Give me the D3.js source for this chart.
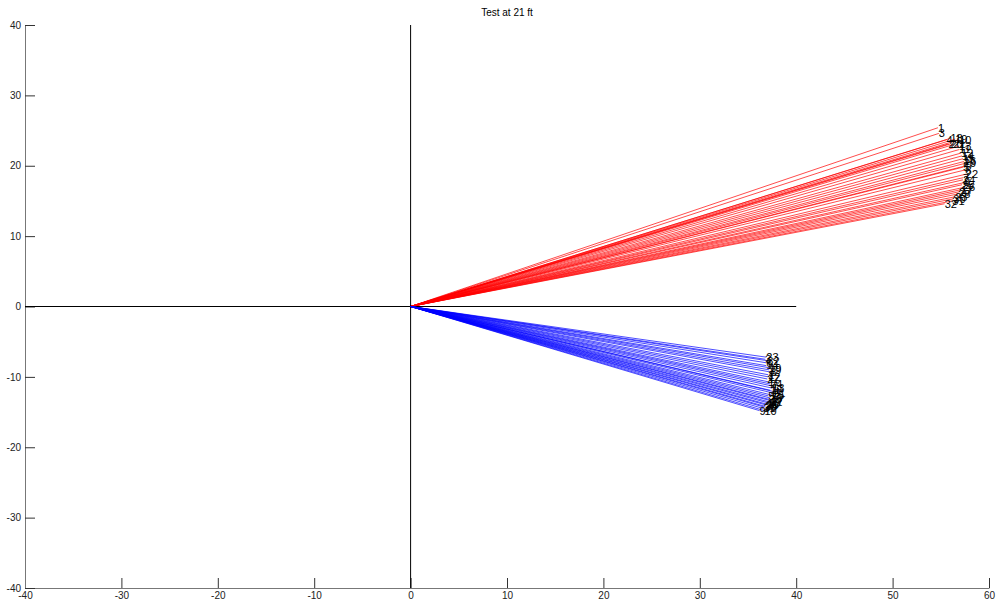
<!DOCTYPE html>
<html><head><meta charset="utf-8">
<script src="https://cdn.jsdelivr.net/npm/d3@7"></script>
<style>body{margin:0;background:#fff}svg{display:block;font-family:"Liberation Sans",Arial,sans-serif}</style>
</head><body><svg id="c" width="999" height="609"></svg>
<script>
const title = "Test at 21 ft";
const xTicks = [-40,-30,-20,-10,0,10,20,30,40,50,60];
const yTicks = [-40,-30,-20,-10,0,10,20,30,40];
// red series: end points [x, y] and labels
const redLabels = [1,3,4,18,19,10,2,20,21,13,11,12,14,15,16,29,9,5,6,22,7,24,8,25,26,17,27,28,23,30,31,32];
const redX = [54.7,54.8,55.6,56.0,56.5,56.9,55.8,56.0,56.3,56.9,56.9,57.1,57.2,57.3,57.4,57.4,57.6,57.3,57.5,57.6,57.3,57.3,57.4,57.2,57.3,57.1,56.9,56.8,56.5,56.3,56.2,55.4];
const redY = [25.4,24.6,23.7,23.9,23.8,23.7,23.1,23.1,23.0,22.8,22.3,21.8,21.4,21.0,20.6,20.3,20.0,19.8,19.4,18.8,18.3,18.0,17.6,17.3,16.9,16.6,16.3,16.0,15.6,15.3,15.0,14.6];
// blue series
const blueLabels = [23,3,32,6,14,19,29,8,2,12,27,1,24,7,13,18,4,21,15,5,16,26,17,22,28,11,20,25,30,31,9,10];
const blueX = [36.9,36.8,37.0,36.9,36.9,37.2,37.2,37.3,37.1,37.1,37.0,37.1,37.3,37.5,37.5,37.3,37.7,37.6,37.5,37.1,37.3,37.2,37.4,37.3,37.1,37.0,36.9,36.8,36.7,36.6,36.2,36.7];
const blueY = [-7.2,-7.5,-7.7,-8.0,-8.4,-8.7,-9.0,-9.3,-9.7,-10.0,-10.3,-10.7,-11.0,-11.3,-11.6,-11.9,-12.1,-12.3,-12.6,-12.7,-13.0,-13.2,-13.4,-13.6,-13.7,-13.9,-14.0,-14.2,-14.3,-14.5,-14.8,-14.8];

const svg = d3.select("#c");
const L=25,R=989,T=25,B=588;
const x = d3.scaleLinear().domain([-40,60]).range([L,R]);
const y = d3.scaleLinear().domain([-40,40]).range([B,T]);
const fmt = d => String(d);

// axes
const xa = svg.append("g").attr("transform",`translate(0,${B})`)
  .call(d3.axisBottom(x).tickValues(xTicks).tickFormat(fmt).tickSizeInner(-10).tickSizeOuter(0).tickPadding(4));
const ya = svg.append("g").attr("transform",`translate(${L},0)`)
  .call(d3.axisLeft(y).tickValues(yTicks).tickFormat(fmt).tickSizeInner(-10).tickSizeOuter(0).tickPadding(4));
[xa,ya].forEach(g=>{
  g.select(".domain").attr("stroke","#777");
  g.selectAll(".tick line").attr("stroke","#333");
  g.selectAll(".tick text").attr("fill","#222").style("font-size","10px").style("font-family","Liberation Sans, Arial, sans-serif");
});

// cross lines
svg.append("line").attr("x1",x(0)).attr("x2",x(0)).attr("y1",y(-40)).attr("y2",y(40)).attr("stroke","#000").attr("stroke-width",1);
svg.append("line").attr("x1",x(-40)).attr("x2",x(40)).attr("y1",y(0)).attr("y2",y(0)).attr("stroke","#000").attr("stroke-width",1);

function series(lbls, xs, ys, col){
  const d = lbls.map((l,i)=>({l, x:xs[i], y:ys[i]}));
  svg.append("g").selectAll("line").data(d).join("line")
    .attr("x1",x(0)).attr("y1",y(0)).attr("x2",p=>x(p.x)).attr("y2",p=>y(p.y))
    .attr("stroke",col).attr("stroke-width",0.7);
  svg.append("g").selectAll("text").data(d).join("text")
    .attr("x",p=>x(p.x)).attr("y",p=>y(p.y)).attr("dy","0.35em")
    .style("font-size","11px").attr("fill","#000").text(p=>p.l);
}
series(redLabels, redX, redY, "#ff0000");
series(blueLabels, blueX, blueY, "#0000ff");

svg.append("text").attr("x",(L+R)/2).attr("y",16).attr("text-anchor","middle")
  .style("font-size","10px").attr("fill","#000").text(title);
</script></body></html>
